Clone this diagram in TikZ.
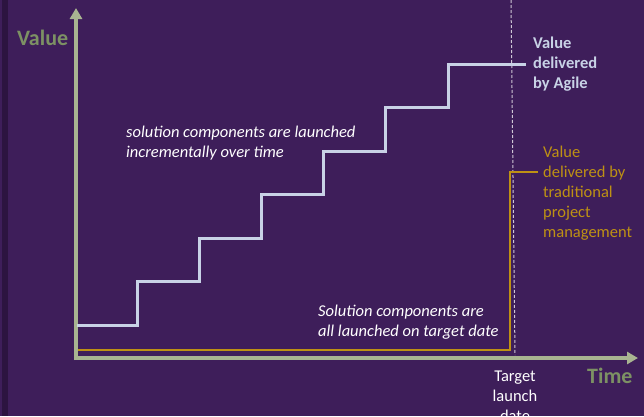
\documentclass[tikz,border=0pt]{standalone}
\usepackage{fontspec}
\setmainfont{Carlito}
\usetikzlibrary{arrows.meta}
\definecolor{bgpurple}{RGB}{62,30,90}
\definecolor{edgepurple}{RGB}{44,20,64}
\definecolor{axisgreen}{RGB}{168,180,145}
\definecolor{labelgreen}{RGB}{125,145,100}
\definecolor{agileblue}{RGB}{200,210,230}
\definecolor{tradgold}{RGB}{190,145,20}
\tikzset{
  axisline/.style={line width=4pt, color=axisgreen, -{Triangle[length=11pt,width=12pt]}},
  axislabel/.style={font=\fontsize{22}{24}\selectfont\bfseries, text=labelgreen, inner sep=0pt, anchor=base west},
  note/.style={font=\fontsize{16.5}{20}\selectfont, align=left, inner sep=0pt, anchor=base west},
}

\begin{document}
\begin{tikzpicture}[x=1pt, y=-1pt]
			%%%%% START %%%%%
			
			\useasboundingbox (0, 0) rectangle (644, 416);
			\fill[bgpurple] (0, 0) rectangle (644, 416);
			\fill[edgepurple] (2, 0) rectangle (8, 416);
			
			% target date marker
			\draw[line width=1pt, color=white!75!bgpurple, dash pattern=on 3pt off 2pt] (511, 0) -- (515, 355);
			
			% axes
			\draw[axisline] (76, 360) -- (76, 8);
			\draw[axisline] (74, 358) -- (638, 358);
			\node[axislabel] (vlabel) at (17, 45) {Value};
			\node[axislabel] (tlabel) at (587, 383) {Time};
			
			% traditional
			\draw[line width=2pt, color=tradgold] (78, 350) -- (510, 350) -- (510, 172) -- (538, 172);
			
			% agile staircase
			\draw[line width=3pt, color=agileblue] (77, 325) -- (137, 325) -- (137, 281) -- (199, 281) -- (199, 238)
			  -- (261, 238) -- (261, 194) -- (323, 194) -- (323, 151) -- (385, 151) -- (385, 107)
			  -- (448, 107) -- (448, 64) -- (526, 64);
			
			% labels (base anchor sits on the last line)
			\node[note, font=\fontsize{16.5}{20}\selectfont\bfseries, text=agileblue] (agile) at (533, 88) {Value\\delivered\\by Agile};
			\node[note, text=tradgold] (trad) at (543, 237) {Value\\delivered by\\traditional\\project\\management};
			\node[note, text=white, font=\fontsize{16.5}{20}\selectfont\itshape] (incr) at (126, 157) {solution components are launched\\incrementally over time};
			\node[note, text=white, font=\fontsize{16.5}{20}\selectfont\itshape] (once) at (318, 336) {Solution components are\\all launched on target date};
			\node[note, align=center, anchor=base, text=white] (target) at (515, 421) {Target\\launch\\date};
			
			%%%%% END %%%%%
\end{tikzpicture}
\end{document}
